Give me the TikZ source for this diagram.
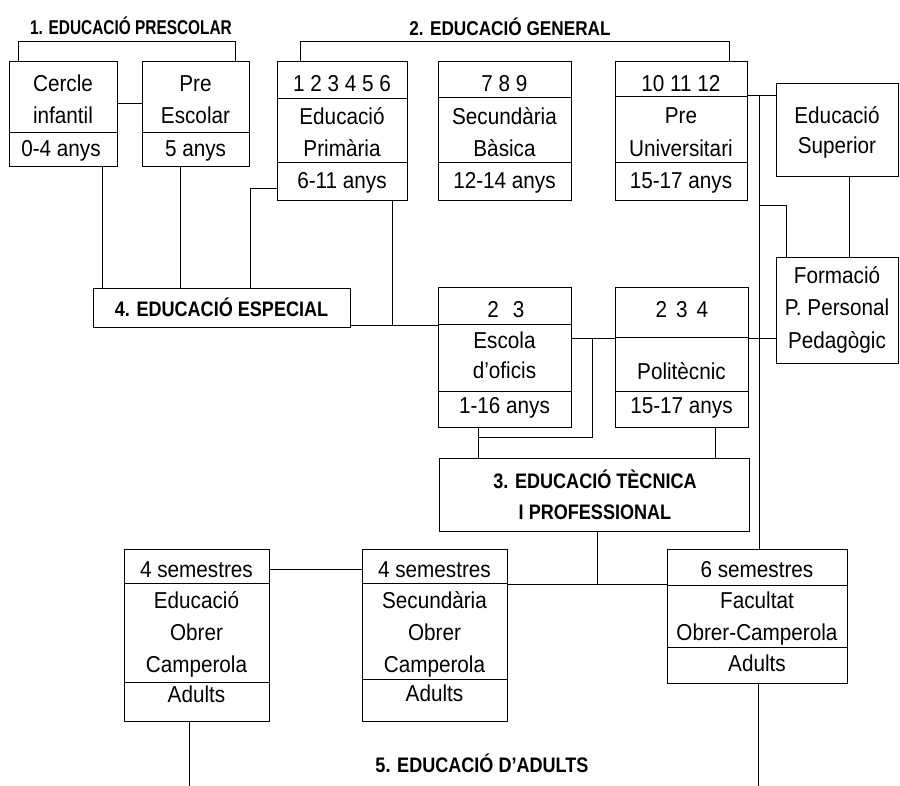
\documentclass[tikz,border=0pt]{standalone}
\usepackage{fontspec}
\setmainfont[FakeStretch=0.9]{Liberation Sans}
\newfontfamily\titlef[FakeStretch=0.86]{Liberation Sans}
\newfontfamily\titlefn[FakeStretch=0.77]{Liberation Sans}
\newcommand\boxfont{\fontsize{23}{27}\selectfont}
\tikzset{
  lin/.style={line width=0.9pt, black},
  boxst/.style={draw, line width=0.9pt, rectangle, inner sep=0pt, outer sep=0pt},
  txt/.style={anchor=base, inner sep=0pt, font=\boxfont},
  ttl/.style={anchor=base, inner sep=0pt, font=\titlef\bfseries\fontsize{21}{25}\selectfont},
}
% box: name, x1, y1, x2, y2 (pixel coordinates, y downwards)
\newcommand\mkbox[5]{%
  \pgfmathsetmacro\bw{#4-#2}\pgfmathsetmacro\bh{#5-#3}%
  \node[boxst, minimum width=\bw pt, minimum height=\bh pt] (#1) at ({(#2+#4)/2},{(#3+#5)/2}) {};}
\newcommand\hdiv[2]{\draw[lin] (#1.west |- 0,#2) -- (#1.east |- 0,#2);}
\newcommand\tx[4]{\node[txt] (#1) at (#2,{#3+8.2}) {#4};}
\begin{document}
\begin{tikzpicture}[x=1pt,y=-1pt]
\useasboundingbox[fill=white] (0,0) rectangle (900,786);

% ---------- titles ----------
\node[ttl, font=\titlefn\bfseries\fontsize{20}{24}\selectfont] (T1) at (131,{27.5+7.2}) {1. EDUCACIÓ PRESCOLAR};
\node[ttl, font=\titlef\bfseries\fontsize{20}{24}\selectfont] (T2) at (510,{28+7.2}) {2. EDUCACIÓ GENERAL};
\node[ttl] (T5) at (482,{765+7.5}) {5. EDUCACIÓ D’ADULTS};

% ---------- boxes ----------
\mkbox{A}{9}{61}{117}{166}
\mkbox{B}{142}{61}{249}{166}
\mkbox{C}{277}{61}{407}{200}
\mkbox{D}{438}{61}{571}{200}
\mkbox{E}{615}{61}{747}{200}
\mkbox{F}{776}{83}{898}{176}
\mkbox{G}{776}{257}{898}{363}
\mkbox{H}{93}{288}{350}{327}
\mkbox{I}{438}{287}{571}{427}
\mkbox{J}{615}{287}{748}{427}
\mkbox{K}{439}{458}{749}{531}
\mkbox{L}{124}{549}{269}{721}
\mkbox{M}{362}{549}{507}{721}
\mkbox{N}{667}{549}{847}{683}

% ---------- dividers ----------
\hdiv{A}{132} \hdiv{B}{132}
\hdiv{C}{98} \hdiv{C}{162}
\hdiv{D}{97} \hdiv{D}{162}
\hdiv{E}{96} \hdiv{E}{162}
\hdiv{I}{324} \hdiv{I}{391}
\hdiv{J}{337} \hdiv{J}{391}
\hdiv{L}{583} \hdiv{L}{682}
\hdiv{M}{583} \hdiv{M}{679}
\hdiv{N}{585} \hdiv{N}{647}

% ---------- texts ----------
\tx{A1}{63}{83}{Cercle} \tx{A2}{63}{115}{infantil} \tx{A3}{61}{148.5}{0-4 anys}
\tx{B1}{195.5}{83}{Pre} \tx{B2}{195.5}{115}{Escolar} \tx{B3}{195.5}{148.5}{5 anys}
\tx{C1}{342}{83.5}{1 2 3 4 5 6} \tx{C2}{342}{116}{Educació} \tx{C3}{342}{148.5}{Primària} \tx{C4}{342}{180}{6-11 anys}
\tx{D1}{504.5}{83.5}{7 8 9} \tx{D2}{504.5}{116}{Secundària} \tx{D3}{504.5}{148.5}{Bàsica} \tx{D4}{504.5}{180}{12-14 anys}
\tx{E1}{681}{83.5}{10 11 12} \tx{E2}{681}{115}{Pre} \tx{E3}{681}{148}{Universitari} \tx{E4}{681}{180}{15-17 anys}
\tx{F1}{837}{115}{Educació} \tx{F2}{837}{145}{Superior}
\tx{G1}{837}{275.5}{Formació} \tx{G2}{837}{307.5}{P. Personal} \tx{G3}{837}{340.5}{Pedagògic}
\node[ttl] (H1) at (221.5,{309.5+7.5}) {4. EDUCACIÓ ESPECIAL};
\tx{I1}{506}{309.5}{2\hspace{14pt}3} \tx{I2}{504.5}{340.5}{Escola} \tx{I3}{504.5}{370.5}{d’oficis} \tx{I4}{504.5}{405.5}{1-16 anys}
\tx{J1}{682}{309.5}{2\hspace{9pt}3\hspace{9pt}4} \tx{J2}{681.5}{371}{Politècnic} \tx{J3}{681.5}{405.5}{15-17 anys}
\node[ttl] (K1) at (595,{481+7.5}) {3. EDUCACIÓ TÈCNICA};
\node[ttl] (K2) at (595,{512+7.5}) {I PROFESSIONAL};
\tx{L1}{196.5}{569}{4 semestres} \tx{L2}{196.5}{600.5}{Educació} \tx{L3}{196.5}{632}{Obrer} \tx{L4}{196.5}{664.5}{Camperola} \tx{L5}{196.5}{694.5}{Adults}
\tx{M1}{434.5}{569}{4 semestres} \tx{M2}{434.5}{600.5}{Secundària} \tx{M3}{434.5}{632}{Obrer} \tx{M4}{434.5}{664.5}{Camperola} \tx{M5}{434.5}{693.5}{Adults}
\tx{N1}{757}{569.5}{6 semestres} \tx{N2}{757}{600}{Facultat} \tx{N3}{757}{632.5}{Obrer-Camperola} \tx{N4}{757}{663.5}{Adults}

% ---------- junction coordinates ----------
\coordinate (b1) at (18,41);   \coordinate (b2) at (235,41);
\coordinate (b3) at (300,41);  \coordinate (b4) at (729,41);
\coordinate (j1) at (392,325);
\coordinate (j2) at (759,95);
\coordinate (j3) at (759,205);
\coordinate (j4) at (592,338);
\coordinate (j5) at (478,437);
\coordinate (j6) at (597,584);
\coordinate (e1) at (189,786);
\coordinate (e2) at (758,786);

% ---------- connectors ----------
\draw[lin] (A.north -| b1) |- (b2) -- (B.north -| b2);
\draw[lin] (C.north -| b3) |- (b4) -- (E.north -| b4);
\draw[lin] (A.east |- 0,103) -- (B.west |- 0,103);
\draw[lin] (A.south -| 102,0) -- (H.north -| 102,0);
\draw[lin] (B.south -| 180,0) -- (H.north -| 180,0);
\draw[lin] (C.west |- 0,188) -| (H.north -| 250,0);
\draw[lin] (C.south -| j1) -- (j1);
\draw[lin] (H.east |- j1) -- (I.west |- j1);
\draw[lin] (E.east |- j2) -- (F.west |- j2);
\draw[lin] (j2) -- (N.north -| j2);
\draw[lin] (j3) -| (G.north -| 786,0);
\draw[lin] (F.south -| 849,0) -- (G.north -| 849,0);
\draw[lin] (I.east |- j4) -- (J.west |- j4);
\draw[lin] (J.east |- j4) -- (G.west |- j4);
\draw[lin] (j4) |- (j5);
\draw[lin] (I.south -| j5) -- (K.north -| j5);
\draw[lin] (J.south -| 715,0) -- (K.north -| 715,0);
\draw[lin] (K.south -| j6) -- (j6);
\draw[lin] (M.east |- j6) -- (N.west |- j6);
\draw[lin] (L.east |- 0,569) -- (M.west |- 0,569);
\draw[lin] (L.south -| e1) -- (e1);
\draw[lin] (N.south -| e2) -- (e2);
\end{tikzpicture}
\end{document}
